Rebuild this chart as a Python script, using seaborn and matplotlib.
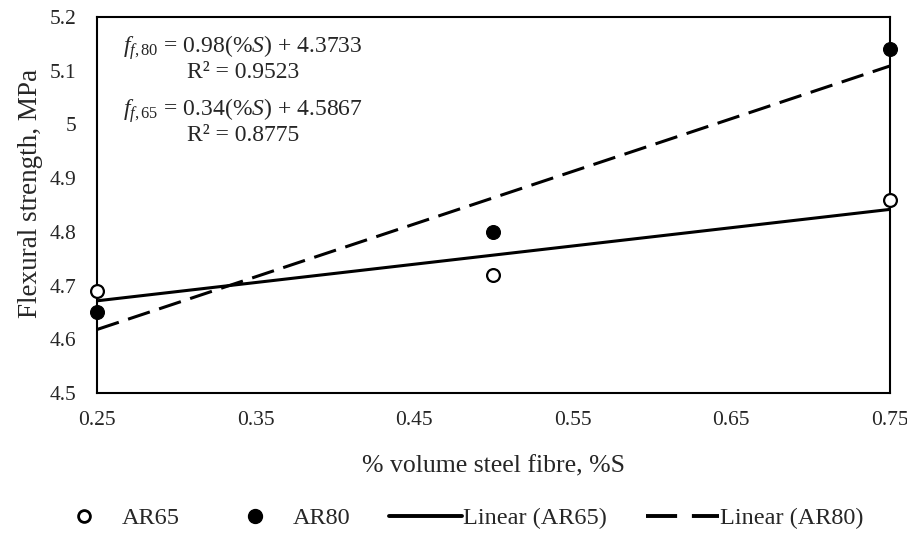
import numpy as np
import pandas as pd
import matplotlib
matplotlib.use("Agg")
import matplotlib.pyplot as plt
import seaborn as sns
from matplotlib.lines import Line2D

# Flexural strength (MPa) against steel fibre volume fraction
fibre_pct = [0.25, 0.50, 0.75]
ar65 = [4.69, 4.72, 4.86]
ar80 = [4.65, 4.80, 5.14]

x_ticks = [0.25, 0.35, 0.45, 0.55, 0.65, 0.75]
y_ticks = [4.5, 4.6, 4.7, 4.8, 4.9, 5.0, 5.1, 5.2]
y_tick_labels = ["4.5", "4.6", "4.7", "4.8", "4.9", "5", "5.1", "5.2"]

sns.set_theme(style="white")
plt.rcParams["font.family"] = ["Liberation Serif", "DejaVu Serif"]
plt.rcParams["mathtext.fontset"] = "custom"
plt.rcParams["mathtext.rm"] = "Liberation Serif"
plt.rcParams["mathtext.it"] = "Liberation Serif:italic"

df = pd.DataFrame({"x": fibre_pct * 2,
                   "y": ar65 + ar80,
                   "series": ["AR65"] * 3 + ["AR80"] * 3})

fig = plt.figure(figsize=(9.07, 5.40), dpi=100)
ax = fig.add_axes([0.107, 0.272, 0.874, 0.697])

# linear trendlines (least squares fit of each series)
xs = np.array([fibre_pct[0], fibre_pct[-1]])
m65, b65 = np.polyfit(fibre_pct, ar65, 1)
m80, b80 = np.polyfit(fibre_pct, ar80, 1)
sns.lineplot(x=xs, y=m65 * xs + b65, color="black", lw=2.2, ax=ax)
sns.lineplot(x=xs, y=m80 * xs + b80, color="black", lw=2.2, ax=ax)
ax.lines[-1].set_dashes([7.5, 3.2])

sns.scatterplot(data=df[df.series == "AR65"], x="x", y="y", marker="o",
                s=85, facecolor="white", edgecolor="black", linewidth=1.6,
                ax=ax, zorder=5, clip_on=False)
sns.scatterplot(data=df[df.series == "AR80"], x="x", y="y", marker="o",
                s=100, color="black", edgecolor="black", ax=ax, zorder=5,
                clip_on=False)

ax.set_xlim(0.25, 0.75)
ax.set_ylim(4.5, 5.2)
ax.set_xticks(x_ticks)
ax.set_xticklabels([f"{v:.2f}" for v in x_ticks])
ax.set_yticks(y_ticks)
ax.set_yticklabels(y_tick_labels)
ax.tick_params(axis="both", labelsize=15.5, length=0)
ax.tick_params(axis="x", pad=13)
ax.tick_params(axis="y", pad=15)
ax.set_xlabel("% volume steel fibre, %S", fontsize=18.5, labelpad=18)
ax.set_ylabel("Flexural strength, MPa", fontsize=19.5)
ax.yaxis.set_label_coords(-0.068, 0.53)
for sp in ax.spines.values():
    sp.set_visible(True)
    sp.set_color("black")
    sp.set_linewidth(1.5)

eq80 = r"$\mathit{f}_{\mathit{f,80}}$ = 0.98($\mathit{\%S}$) + 4.3733" + "\nR² = 0.9523"
eq65 = r"$\mathit{f}_{\mathit{f,65}}$ = 0.34($\mathit{\%S}$) + 4.5867" + "\nR² = 0.8775"
ax.text(0.184, 0.890, eq80, transform=ax.transAxes, ha="center", va="center",
        fontsize=17, multialignment="center", linespacing=1.0)
ax.text(0.184, 0.722, eq65, transform=ax.transAxes, ha="center", va="center",
        fontsize=17, multialignment="center", linespacing=1.0)

handles = [
    Line2D([], [], marker="o", ls="none", markerfacecolor="white",
           markeredgecolor="black", markeredgewidth=2.0, markersize=8.5),
    Line2D([], [], marker="o", ls="none", color="black", markersize=10),
    Line2D([], [], color="black", lw=2.8),
    Line2D([], [], color="black", lw=2.8, dashes=[8, 3.8]),
]
labels = ["AR65", "AR80", "Linear (AR65)", "Linear (AR80)"]
fig.legend(handles, labels, loc="center", bbox_to_anchor=(0.502, 0.040),
           ncol=4, frameon=False, fontsize=17.5, handlelength=3.0,
           columnspacing=1.6, handletextpad=0.05)

fig.savefig("out.png", dpi=100)
